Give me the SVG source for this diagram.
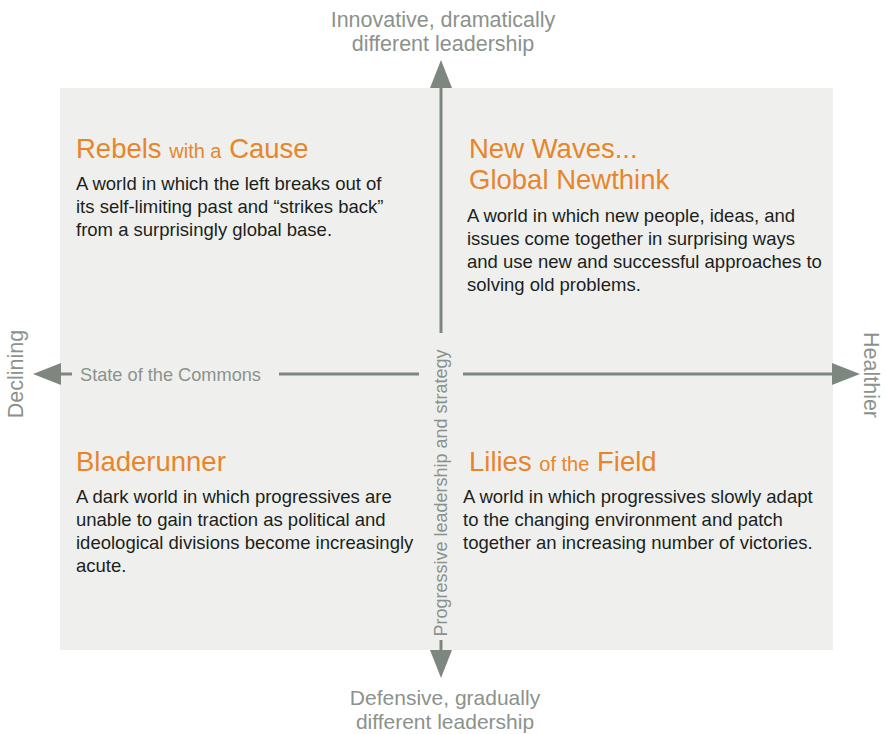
<svg xmlns="http://www.w3.org/2000/svg" width="885" height="734" viewBox="0 0 885 734">
<style>
.axis{font-family:"Liberation Sans",Arial,sans-serif;fill:#8b928c}
.ax1{font-size:21.5px}
.ax2{font-size:21px}
.ttl{font-family:"Liberation Sans",Arial,sans-serif;font-size:27.5px;fill:#e8852a}
.sm{font-size:20px}
.body{font-family:"Liberation Sans",Arial,sans-serif;font-size:18.5px;fill:#1b1f1c}
.ln{stroke:#7d877f;stroke-width:3;fill:none}
.ah{fill:#7d877f}
</style>
<rect x="60" y="88" width="773" height="562" fill="#eff0ee"/>
<g id="connectors">
<line class="ln" x1="441" y1="85" x2="441" y2="333"/>
<polygon class="ah" points="441,60 430,88 452,88"/>
<line class="ln" x1="441" y1="640" x2="441" y2="652"/>
<polygon class="ah" points="441,678 430,650 452,650"/>
<line class="ln" x1="58" y1="374" x2="72" y2="374"/>
<polygon class="ah" points="33,374 61,363 61,385"/>
<line class="ln" x1="279" y1="374" x2="419" y2="374"/>
<line class="ln" x1="463" y1="374" x2="835" y2="374"/>
<polygon class="ah" points="860,374 832,363 832,385"/>
</g>
<g id="axis-labels">
<text class="axis ax1" x="443" y="27" text-anchor="middle">Innovative, dramatically</text>
<text class="axis ax1" x="443" y="51" text-anchor="middle">different leadership</text>
<text class="axis ax2" x="445" y="705" text-anchor="middle">Defensive, gradually</text>
<text class="axis ax2" x="445" y="729" text-anchor="middle">different leadership</text>
<text class="axis" x="80" y="381" style="font-size:18.2px">State of the Commons</text>
<text class="axis" transform="translate(23,374) rotate(-90)" text-anchor="middle" style="font-size:21.5px">Declining</text>
<text class="axis" transform="translate(864,375) rotate(90)" text-anchor="middle" style="font-size:21.5px">Healthier</text>
<text class="axis" transform="translate(447,493) rotate(-90)" text-anchor="middle" style="font-size:18px">Progressive leadership and strategy</text>
</g>
<g id="rebels">
<text class="ttl" x="76" y="158">Rebels <tspan class="sm">with a</tspan> Cause</text>
<text class="body" x="76" y="190">A world in which the left breaks out of</text>
<text class="body" x="76" y="213">its self-limiting past and “strikes back”</text>
<text class="body" x="76" y="236">from a surprisingly global base.</text>
</g>
<g id="newwaves">
<text class="ttl" x="469" y="158">New Waves...</text>
<text class="ttl" x="469" y="189">Global Newthink</text>
<text class="body" x="467" y="222">A world in which new people, ideas, and</text>
<text class="body" x="467" y="245">issues come together in surprising ways</text>
<text class="body" x="467" y="268">and use new and successful approaches to</text>
<text class="body" x="467" y="291">solving old problems.</text>
</g>
<g id="bladerunner">
<text class="ttl" x="76" y="471">Bladerunner</text>
<text class="body" x="76" y="503">A dark world in which progressives are</text>
<text class="body" x="76" y="526">unable to gain traction as political and</text>
<text class="body" x="76" y="549">ideological divisions become increasingly</text>
<text class="body" x="76" y="572">acute.</text>
</g>
<g id="lilies">
<text class="ttl" x="469" y="471">Lilies <tspan class="sm">of the</tspan> Field</text>
<text class="body" x="463" y="503">A world in which progressives slowly adapt</text>
<text class="body" x="463" y="526">to the changing environment and patch</text>
<text class="body" x="463" y="549">together an increasing number of victories.</text>
</g>
</svg>
